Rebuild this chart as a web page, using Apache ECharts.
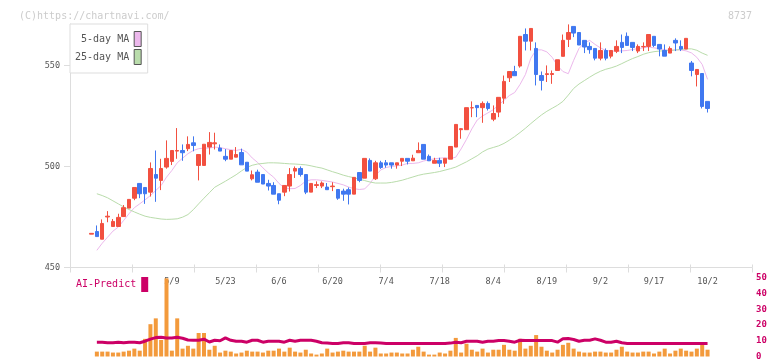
<!DOCTYPE html>
<html><head><meta charset="utf-8">
<script src="https://cdn.jsdelivr.net/npm/echarts@6/dist/echarts.min.js"></script>
<style>html,body{margin:0;padding:0;background:#fff}#c{width:772px;height:361px}</style>
</head><body><div id="c"></div>
<script>
const dates = [
 '4/15','4/16','4/17','4/18','4/21','4/22','4/23','4/24','4/25','4/28','4/30',
 '5/1','5/2','5/7','5/8','5/9','5/12','5/13','5/14','5/15','5/16','5/19','5/20','5/21','5/22','5/23','5/26','5/27','5/28','5/29','5/30',
 '6/2','6/3','6/4','6/5','6/6','6/9','6/10','6/11','6/12','6/13','6/16','6/17','6/18','6/19','6/20','6/23','6/24','6/25','6/26','6/27','6/30',
 '7/1','7/2','7/3','7/4','7/7','7/8','7/9','7/10','7/11','7/14','7/15','7/16','7/17','7/18','7/22','7/23','7/24','7/25','7/28','7/29','7/30','7/31',
 '8/1','8/4','8/5','8/6','8/7','8/8','8/12','8/13','8/14','8/15','8/18','8/19','8/20','8/21','8/22','8/25','8/26','8/27','8/28','8/29',
 '9/1','9/2','9/3','9/4','9/5','9/8','9/9','9/10','9/11','9/12','9/16','9/17','9/18','9/19','9/22','9/24','9/25','9/26','9/29','9/30',
 '10/1','10/2'
];
const opens = [
 466.5,467.8,464.0,475.0,470.3,470.3,475.2,479.4,484.3,491.6,489.6,487.3,496.0,493.1,499.7,502.5,507.6,507.9,508.8,511.7,
 500.5,500.5,509.6,511.2,509.1,505.0,503.6,504.6,506.9,502.1,493.9,497.2,496.0,491.6,490.6,486.5,487.3,490.3,497.7,499.0,
 496.0,487.3,490.6,490.3,489.8,490.0,488.6,487.8,488.5,486.3,497.0,494.2,503.0,493.9,501.8,501.8,501.8,500.7,502.6,504.0,
 502.8,506.8,510.9,505.0,501.6,503.0,501.6,503.6,509.6,518.2,518.2,529.0,530.2,529.1,531.2,523.4,526.9,533.8,543.9,547.0,
 549.7,565.3,562.0,558.4,545.0,545.5,545.5,547.5,554.5,562.9,569.3,566.3,562.4,559.4,558.4,553.6,557.4,554.6,557.0,561.4,
 564.4,561.4,557.1,559.2,559.4,564.4,560.4,557.4,556.1,562.4,559.4,558.1,551.2,545.5,546.0,532.2
];
const closes = [
 466.9,465.3,471.8,475.4,472.8,474.8,479.6,483.7,489.6,486.5,486.5,499.0,494.2,499.0,504.0,507.9,507.9,506.8,510.9,510.4,
 505.9,511.0,511.9,511.7,507.6,503.6,507.9,505.9,500.8,497.7,495.9,492.2,491.3,490.3,486.3,483.3,490.6,496.0,499.0,496.0,
 487.3,491.6,491.0,491.8,488.5,490.3,484.3,486.3,486.3,494.6,493.1,504.0,497.7,501.8,499.5,500.7,500.7,501.8,504.0,502.6,
 504.1,507.9,503.6,502.8,503.0,501.6,504.0,509.9,520.8,518.7,529.1,529.1,529.1,531.2,528.7,526.2,534.2,542.1,547.0,544.9,
 564.4,562.0,568.3,545.5,542.6,545.9,546.0,552.8,562.4,566.3,566.0,560.1,559.1,557.8,553.6,557.4,553.6,557.4,559.4,558.9,
 559.9,558.9,559.4,559.4,565.3,559.9,558.1,554.6,558.4,561.1,558.1,563.4,547.5,548.0,529.7,528.7
];
const lows = [
 466.5,465.3,464.0,472.4,470.3,470.3,475.2,479.4,483.3,484.3,481.5,485.1,482.5,488.3,498.9,500.7,503.8,502.8,507.6,507.5,
 493.1,500.5,505.9,508.4,507.6,502.6,503.6,504.6,500.8,497.7,493.1,492.2,491.3,488.1,486.3,481.3,485.3,487.6,494.3,495.0,
 486.3,487.3,489.3,489.3,488.5,487.8,483.5,483.0,481.2,486.3,492.2,494.2,497.7,493.3,498.8,499.4,498.9,498.9,500.2,501.0,
 502.8,506.8,503.6,502.8,501.6,499.7,499.7,503.6,509.6,513.7,518.2,524.4,524.4,521.6,527.7,522.4,524.4,531.0,541.8,544.9,
 548.9,557.4,557.4,540.1,537.6,541.8,540.9,547.5,554.5,559.1,564.0,560.1,556.1,555.8,552.5,552.5,552.5,553.5,556.1,556.1,
 559.9,557.1,556.1,557.1,557.1,559.1,554.5,554.6,556.1,557.1,557.1,558.1,544.6,539.6,528.7,526.7
];
const highs = [
 466.9,470.8,473.8,477.9,474.0,476.6,480.9,483.7,489.6,491.6,489.6,502.0,507.9,503.8,512.9,507.9,519.0,510.9,514.9,514.9,
 505.9,511.0,517.0,516.7,510.9,508.6,507.9,509.6,508.8,502.1,498.0,498.4,496.0,493.4,492.2,486.5,490.6,499.2,500.0,500.0,
 496.0,491.6,492.6,492.6,491.8,492.2,488.6,489.0,489.6,494.6,497.0,504.0,504.0,502.8,502.8,503.2,501.8,501.8,504.0,504.0,
 505.8,511.9,510.9,505.9,504.3,504.3,504.0,509.9,520.8,519.0,529.1,532.2,530.2,532.2,532.2,530.2,534.2,545.0,547.0,549.8,
 564.4,568.3,568.3,561.4,547.0,550.0,547.5,552.8,565.3,570.3,569.3,566.3,562.4,561.4,558.4,561.4,558.4,557.4,562.4,565.3,
 566.3,561.4,560.4,561.4,565.3,564.4,560.4,560.4,559.4,563.4,562.4,563.4,552.2,548.0,546.0,532.2
];
const ma5 = [
 null,458.5,462.0,465.0,468.0,470.0,473.3,476.6,479.6,481.5,483.5,485.6,488.1,490.6,494.7,498.0,501.8,504.1,506.3,507.9,
 508.8,509.1,509.1,509.6,509.3,508.8,508.3,507.9,508.5,507.1,504.2,502.0,499.3,496.8,494.7,491.6,489.4,489.0,489.1,490.6,
 492.8,493.4,493.4,493.1,492.7,492.3,491.6,490.9,489.8,489.0,488.6,488.9,491.6,495.5,498.3,499.5,500.0,500.3,500.7,501.5,
 501.5,501.8,502.7,503.3,503.8,504.1,504.3,503.9,504.6,508.7,513.4,518.6,523.0,525.0,526.5,528.1,530.4,532.7,535.1,536.6,
 540.6,545.5,553.5,557.7,557.7,556.7,554.0,549.8,547.0,545.9,552.5,558.4,561.1,562.4,560.4,558.7,557.4,557.1,557.1,557.2,
 557.4,557.9,558.3,558.7,559.1,558.7,558.3,557.8,557.4,557.7,557.7,557.2,556.2,554.0,550.5,543.1
];
const ma25 = [
 null,486.5,485.6,484.5,483.0,481.5,480.0,478.7,477.5,476.4,475.4,474.8,474.4,474.0,473.8,473.9,474.1,474.9,476.2,478.6,
 481.5,484.3,487.0,489.7,491.2,492.7,494.3,495.9,497.8,499.5,500.6,501.2,501.5,501.8,501.8,501.7,501.5,501.3,501.2,501.0,
 500.8,500.3,499.7,499.2,498.3,497.4,496.6,495.7,495.0,494.4,493.7,493.0,492.3,491.8,491.8,491.8,492.1,492.6,493.2,494.0,
 494.8,495.6,496.2,496.6,497.0,497.5,498.2,498.9,499.7,501.0,502.3,503.8,505.3,507.2,508.6,509.4,510.2,511.4,513.0,514.8,
 516.8,518.9,521.2,523.4,525.5,527.3,528.8,530.3,532.2,535.3,538.6,540.8,542.5,544.2,545.8,547.1,548.1,548.8,549.7,550.9,
 552.2,553.4,554.4,555.5,556.3,556.8,557.1,557.3,557.4,557.6,557.9,558.2,558.2,557.5,556.1,555.0
];
const volume = [
 null,3.1,3.1,3.1,2.5,2.5,3.1,3.7,5.0,3.7,11.2,20.5,24.2,10.5,49.6,3.7,24.2,5.0,6.8,5.0,
 14.9,14.9,4.3,6.8,2.5,3.7,3.1,1.9,2.5,3.7,3.1,3.1,2.5,3.7,3.7,5.0,3.1,5.6,3.1,2.5,
 4.3,1.9,1.2,1.9,5.0,2.5,3.1,3.7,3.1,3.1,3.1,6.8,3.1,5.6,1.9,1.9,2.5,2.5,1.9,1.9,
 4.3,6.2,3.1,1.2,1.2,2.5,1.9,3.7,11.8,2.5,8.1,4.3,3.1,5.0,2.5,4.3,4.3,7.4,4.3,3.7,
 11.2,5.0,6.8,13.6,6.2,3.7,2.5,4.3,7.4,8.7,5.0,3.1,2.5,2.5,3.1,3.1,2.5,2.5,4.3,6.2,
 3.1,2.5,2.5,3.1,3.1,1.9,3.1,5.0,1.9,3.7,5.0,3.7,3.1,5.0,7.4,4.3
];
const aiPredict = [
 null,9.1,9.1,8.7,8.7,9.1,8.7,9.1,9.1,8.7,9.7,11.0,12.0,12.2,11.8,11.7,12.2,11.6,10.5,10.3,
 10.3,11.0,9.2,10.3,10.0,11.8,10.3,9.7,9.7,9.1,10.3,10.3,9.1,9.7,9.7,9.7,9.1,10.3,9.7,10.3,
 10.3,10.3,9.7,8.7,8.5,8.3,8.3,8.7,8.7,8.3,8.3,8.3,8.7,8.7,8.5,8.3,8.3,8.3,8.3,8.3,
 8.3,8.3,8.3,8.3,8.3,8.3,8.3,8.5,9.1,8.7,9.7,9.7,9.7,9.1,9.7,9.7,10.1,10.1,9.7,9.1,
 10.3,10.1,10.1,10.1,10.1,10.1,10.1,9.1,11.2,11.4,10.8,9.7,10.3,10.3,11.2,10.3,9.1,9.1,9.7,8.7,
 8.3,8.3,8.3,8.3,8.3,8.3,8.3,8.3,8.3,8.3,8.3,8.3,8.3,8.3,8.3,8.3
];
const priceTicks = [450, 500, 550];

const FONT = '"DejaVu Sans Mono","Liberation Mono",monospace';
const N = dates.length;
const STEP = 5.357;
const cLeft = 91.5 - STEP / 2;
const cWidth = STEP * N;
const ohlc = opens.map((o, i) => [o, closes[i], lows[i], highs[i]]);

const chart = echarts.init(document.getElementById('c'), null, {renderer: 'canvas'});
chart.setOption({
  animation: false,
  backgroundColor: '#fff',
  title: [
    {text: '(C)https://chartnavi.com/', left: 14, top: 6, textStyle: {fontFamily: FONT, fontSize: 10, fontWeight: 'normal', color: '#ccc'}},
    {text: '8737', right: 15, top: 6, textStyle: {fontFamily: FONT, fontSize: 10, fontWeight: 'normal', color: '#ccc'}}
  ],
  legend: [
    {data: ['5-day MA', '25-day MA'], orient: 'vertical', align: 'right', left: 70, top: 24,
     padding: [7, 6, 8, 5], itemWidth: 7, itemHeight: 15, itemGap: 2, icon: 'rect',
     borderColor: '#ddd', borderWidth: 1, backgroundColor: '#fff',
     textStyle: {fontFamily: FONT, fontSize: 10, color: '#555'},
     itemStyle: {borderColor: '#555', borderWidth: 1}},
    {data: ['AI-Predict'], orient: 'horizontal', align: 'right', left: 76, top: 277, padding: 0,
     itemWidth: 7, itemHeight: 15, icon: 'rect',
     textStyle: {fontFamily: FONT, fontSize: 10, color: '#cc0066'},
     itemStyle: {borderWidth: 0}}
  ],
  grid: [
    {left: 70, width: 682, top: 24, height: 243.5},
    {left: cLeft, width: cWidth, top: 24, height: 243.5},
    {left: cLeft, width: cWidth, top: 277.7, height: 81.3},
    {left: 70, width: 682, top: 24, height: 243.5}
  ],
  xAxis: [
    {gridIndex: 0, type: 'value', position: 'bottom', min: 0, max: 11, interval: 1,
     axisLine: {lineStyle: {color: '#ddd'}}, axisTick: {length: 5, lineStyle: {color: '#ddd'}},
     axisLabel: {show: false}, splitLine: {show: false}},
    {gridIndex: 3, type: 'value', position: 'bottom', min: 0, max: 11, interval: 1,
     axisLine: {show: false}, axisTick: {inside: true, length: 3, lineStyle: {color: '#ddd'}},
     axisLabel: {show: false}, splitLine: {show: false}},
    {gridIndex: 1, type: 'category', position: 'bottom', data: dates, boundaryGap: true,
     axisLine: {show: false}, axisTick: {show: false}, splitLine: {show: false},
     axisLabel: {interval: (i) => i % 10 === 5 && i >= 15, margin: 10, fontFamily: FONT, fontSize: 8.5, color: '#555'}},
    {gridIndex: 2, type: 'category', data: dates, boundaryGap: true, show: false}
  ],
  yAxis: [
    {gridIndex: 0, type: 'value', min: 450, max: 570.5,
     axisLine: {show: true, lineStyle: {color: '#ddd'}},
     axisTick: {show: true, length: 6, lineStyle: {color: '#ddd'}, customValues: priceTicks},
     axisLabel: {customValues: priceTicks, margin: 10, fontFamily: FONT, fontSize: 8.5, color: '#555'},
     splitLine: {show: false}},
    {gridIndex: 1, type: 'value', min: 450, max: 570.5, show: false},
    {gridIndex: 2, type: 'value', min: 0, max: 50, interval: 10, position: 'right',
     offset: 752 - (cLeft + cWidth),
     axisLine: {show: false}, axisTick: {show: false}, splitLine: {show: false},
     axisLabel: {margin: 4, color: '#cc0066', fontFamily: FONT, fontSize: 9, fontWeight: 'bold'}},
    {gridIndex: 3, type: 'value', min: 0, max: 1, show: false}
  ],
  series: [
    {name: '5-day MA', type: 'line', xAxisIndex: 2, yAxisIndex: 1, data: ma5, color: '#ecb8ec',
     showSymbol: false, lineStyle: {width: 1, color: '#ecb8ec'}, z: 1},
    {name: '25-day MA', type: 'line', xAxisIndex: 2, yAxisIndex: 1, data: ma25, color: '#b9dcab',
     showSymbol: false, lineStyle: {width: 1, color: '#b9dcab'}, z: 1},
    {name: 'price', type: 'candlestick', xAxisIndex: 2, yAxisIndex: 1, data: ohlc, barWidth: 4, z: 3,
     itemStyle: {color: '#f25040', color0: '#4078f0', borderColor: '#f25040', borderColor0: '#4078f0', borderWidth: 1}},
    {name: 'volume', type: 'bar', xAxisIndex: 3, yAxisIndex: 2, data: volume, barWidth: 4, color: '#f39a3c', z: 2},
    {name: 'AI-Predict', type: 'line', xAxisIndex: 3, yAxisIndex: 2, data: aiPredict, color: '#cc0066',
     showSymbol: false, lineStyle: {width: 3, color: '#cc0066'}, z: 4}
  ]
});
</script></body></html>
